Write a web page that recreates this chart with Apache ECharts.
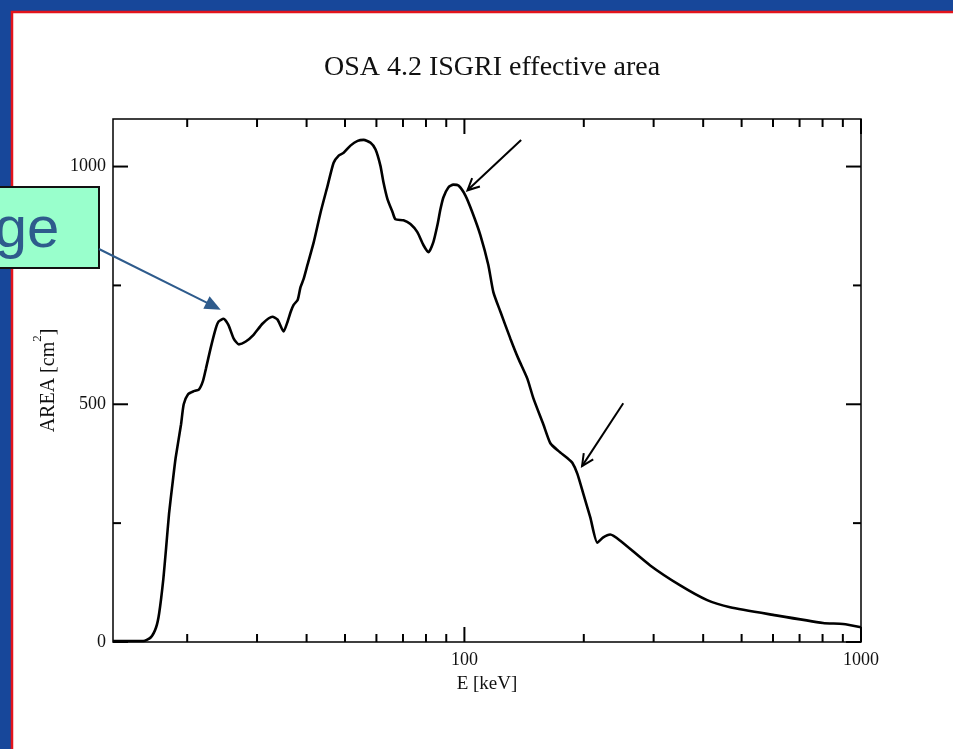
<!DOCTYPE html>
<html>
<head>
<meta charset="utf-8">
<title>OSA 4.2 ISGRI effective area</title>
<script src="https://cdn.jsdelivr.net/npm/echarts@6/dist/echarts.min.js"></script>
<style>
  html, body { margin: 0; padding: 0; background: #17479a; }
  #chart { width: 953px; height: 749px; }
</style>
</head>
<body>
<div id="chart"></div>
<script>
// ISGRI effective area versus photon energy (OSA 4.2 response)
const energyKeV = [
  13.0, 15.5, 16.2, 16.7, 17.0, 17.4, 17.7, 18.0, 18.4, 18.7,
  19.3, 19.6, 20.1, 20.7, 21.4, 21.9, 22.3, 22.9, 23.6, 24.0,
  24.7, 25.4, 26.2, 27.0, 28.1, 29.4, 31.0, 32.8, 33.8, 35.0,
  35.8, 36.5, 37.1, 38.0, 38.6, 39.3, 40.2, 41.7, 43.4, 45.2,
  46.8, 48.2, 49.6, 51.6, 53.8, 55.7, 58.0, 59.7, 61.4, 62.5,
  64.0, 65.9, 67.0, 70.2, 73.1, 76.1, 78.8, 81.2, 83.5, 85.5,
  87.0, 88.5, 91.1, 93.8, 96.6, 100.6, 104.7, 109.7, 114.9, 118.3,
  123.2, 130.6, 136.8, 144.1, 149.2, 158.1, 164.7, 172.5, 181.7, 187.1,
  192.6, 199.4, 207.7, 216.3, 223.9, 233.2, 247.2, 294.1, 350.1, 409.4,
  467.7, 600.2, 802.0, 900.8, 1000.0
];
const areaCm2 = [
  2, 2, 10, 31, 61, 130, 199, 270, 339, 387,
  458, 500, 521, 527, 531, 548, 575, 617, 659, 674,
  680, 667, 638, 626, 632, 646, 670, 684, 678, 653,
  673, 695, 709, 720, 746, 763, 793, 841, 904, 960,
  1008, 1023, 1029, 1044, 1054, 1056, 1050, 1036, 1002, 967,
  931, 904, 889, 887, 879, 862, 835, 820, 841, 877,
  910, 935, 956, 962, 960, 939, 904, 856, 793, 736,
  695, 638, 596, 554, 513, 458, 418, 402, 387, 377,
  354, 312, 262, 209, 220, 226, 213, 161, 119, 88,
  73, 57, 40, 38, 31
];

// axis tick positions and labelled values
const xMinorTicks = [20, 30, 40, 50, 60, 70, 80, 90, 200, 300, 400, 500, 600, 700, 800, 900];
const xMajorTicks = [100, 1000];
const yMinorTicks = [250, 750];
const yMajorTicks = [0, 500, 1000];
const xLabelValues = [100, 1000];
const yLabelValues = [0, 500, 1000];

// annotation arrows: [tail energy, tail area, tip energy, tip area]
const arrowTails = [[139, 1056], [251.5, 502]];
const arrowTips = [[101.8, 950], [198, 370]];

// callout pointing at the low-energy edge feature
const calloutText = 'ge';
const calloutTip = [24.3, 699];

const curve = energyKeV.map((e, i) => [e, areaCm2[i]]);

const tickData = [];
xMinorTicks.forEach(v => tickData.push([v, 0, 0]));
xMajorTicks.forEach(v => tickData.push([v, 0, 1]));
yMinorTicks.forEach(v => tickData.push([100, v, 2]));
yMajorTicks.forEach(v => tickData.push([100, v, 3]));

const arrowData = arrowTails.map((t, i) => [t[0], t[1], arrowTips[i][0], arrowTips[i][1]]);

const MAJOR_LEN = 15, MINOR_LEN = 8;

function renderTick(params, api) {
  const cs = params.coordSys;
  const kind = api.value(2);
  const style = { stroke: '#000', lineWidth: 2 };
  const len = (kind === 1 || kind === 3) ? MAJOR_LEN : MINOR_LEN;
  if (kind < 2) {
    const x = api.coord([api.value(0), 0])[0];
    const yb = cs.y + cs.height, yt = cs.y;
    return { type: 'group', children: [
      { type: 'line', shape: { x1: x, y1: yb, x2: x, y2: yb - len }, style },
      { type: 'line', shape: { x1: x, y1: yt, x2: x, y2: yt + len }, style }
    ]};
  }
  const y = api.coord([100, api.value(1)])[1];
  const xl = cs.x, xr = cs.x + cs.width;
  return { type: 'group', children: [
    { type: 'line', shape: { x1: xl, y1: y, x2: xl + len, y2: y }, style },
    { type: 'line', shape: { x1: xr, y1: y, x2: xr - len, y2: y }, style }
  ]};
}

function renderArrow(params, api) {
  const p0 = api.coord([api.value(0), api.value(1)]);
  const p1 = api.coord([api.value(2), api.value(3)]);
  const dx = p1[0] - p0[0], dy = p1[1] - p0[1];
  const L = Math.hypot(dx, dy);
  const ux = dx / L, uy = dy / L;
  const head = 13, spread = 0.45;
  const c = Math.cos(spread), s = Math.sin(spread);
  const h1 = [p1[0] - head * (ux * c - uy * s), p1[1] - head * (uy * c + ux * s)];
  const h2 = [p1[0] - head * (ux * c + uy * s), p1[1] - head * (uy * c - ux * s)];
  const style = { stroke: '#000', lineWidth: 2, fill: null };
  return { type: 'group', children: [
    { type: 'line', shape: { x1: p0[0], y1: p0[1], x2: p1[0], y2: p1[1] }, style },
    { type: 'polyline', shape: { points: [h1, p1, h2] }, style }
  ]};
}

const chart = echarts.init(document.getElementById('chart'), null, { renderer: 'canvas' });

const serif = 'Liberation Serif';

chart.setOption({
  backgroundColor: '#17479a',
  animation: false,
  title: {
    text: 'OSA 4.2 ISGRI effective area',
    left: 487,
    top: 49,
    textAlign: 'center',
    textStyle: { fontFamily: serif, fontSize: 28, fontWeight: 'normal', color: '#111' }
  },
  grid: {
    left: 113, top: 119, right: 92, bottom: 107,
    show: true, borderColor: '#000', borderWidth: 1.5, backgroundColor: 'transparent'
  },
  xAxis: {
    type: 'log', logBase: 10, min: 13, max: 1000,
    name: 'E [keV]', nameLocation: 'middle', nameGap: 33,
    nameTextStyle: { fontFamily: serif, fontSize: 19, color: '#111' },
    axisLine: { show: false }, axisTick: { show: false }, splitLine: { show: false },
    axisLabel: {
      margin: 9, fontFamily: serif, fontSize: 18, color: '#111',
      showMinLabel: false,
      formatter: v => (xLabelValues.indexOf(Math.round(v)) >= 0 ? String(Math.round(v)) : '')
    }
  },
  yAxis: {
    type: 'value', min: 0, max: 1100, interval: 250,
    name: '{a|AREA [cm}{s|2}{a|]}', nameLocation: 'middle', nameGap: 50, nameRotate: 90,
    nameTextStyle: {
      fontFamily: serif, fontSize: 20, color: '#111',
      rich: {
        a: { fontFamily: serif, fontSize: 20, color: '#111', verticalAlign: 'bottom', lineHeight: 28 },
        s: { fontFamily: serif, fontSize: 13, color: '#111', verticalAlign: 'top', lineHeight: 28 }
      }
    },
    axisLine: { show: false }, axisTick: { show: false }, splitLine: { show: false },
    axisLabel: {
      margin: 7, fontFamily: serif, fontSize: 18, color: '#111',
      formatter: v => (yLabelValues.indexOf(v) >= 0 ? String(v) : '')
    }
  },
  series: [
    {
      type: 'line', data: curve, showSymbol: false, symbol: 'none',
      smooth: 0.2,
      lineStyle: { color: '#000', width: 2.6 }, z: 3
    },
    {
      type: 'custom', data: tickData, renderItem: renderTick,
      encode: { x: 0, y: 1 }, silent: true, z: 4
    },
    {
      type: 'custom', data: arrowData, renderItem: renderArrow,
      encode: { x: [0, 2], y: [1, 3] }, silent: true, z: 5
    }
  ]
});

// slide frame and the callout box, laid out around the plotted chart
const tip = chart.convertToPixel({ gridIndex: 0 }, calloutTip);
const boxRight = 99, boxTop = 187, boxBottom = 268;
const start = [boxRight, 249];
const ddx = tip[0] - start[0], ddy = tip[1] - start[1];
const dl = Math.hypot(ddx, ddy);
const ux = ddx / dl, uy = ddy / dl;
const headLen = 16, headHalf = 7;
const base = [tip[0] - ux * headLen, tip[1] - uy * headLen];
const calloutBlue = '#2e5b8c';

chart.setOption({
  graphic: [
    {
      type: 'rect', z: -10, silent: true,
      shape: { x: 12, y: 12, width: 960, height: 760 },
      style: { fill: '#ffffff', stroke: '#e3141c', lineWidth: 2.5 }
    },
    {
      type: 'rect', z: 100, silent: true,
      shape: { x: -10, y: boxTop, width: boxRight + 10, height: boxBottom - boxTop },
      style: { fill: '#99ffcc', stroke: '#111', lineWidth: 2 }
    },
    {
      type: 'text', z: 101, silent: true,
      x: 27, y: (boxTop + boxBottom) / 2 + 3,
      style: {
        text: calloutText, fill: calloutBlue, font: '58px "Liberation Sans", Arial, sans-serif',
        align: 'center', verticalAlign: 'middle'
      }
    },
    {
      type: 'line', z: 100, silent: true,
      shape: { x1: start[0], y1: start[1], x2: base[0] + ux * 2, y2: base[1] + uy * 2 },
      style: { stroke: calloutBlue, lineWidth: 2 }
    },
    {
      type: 'polygon', z: 100, silent: true,
      shape: { points: [
        tip,
        [base[0] - uy * headHalf, base[1] + ux * headHalf],
        [base[0] + uy * headHalf, base[1] - ux * headHalf]
      ] },
      style: { fill: calloutBlue }
    }
  ]
});
</script>
</body>
</html>
